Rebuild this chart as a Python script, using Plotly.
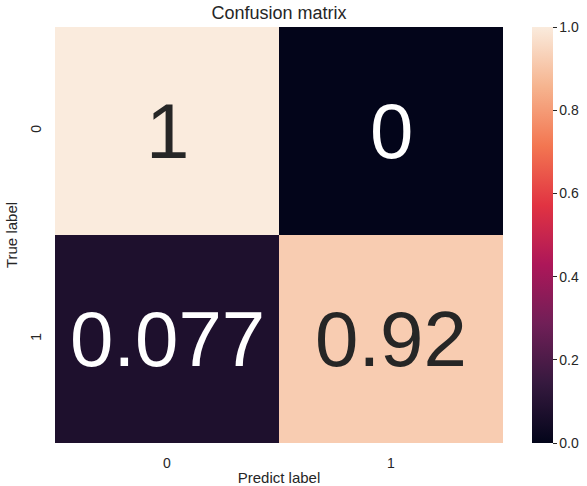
import plotly.graph_objects as go

# Normalised confusion matrix (rows: true label, columns: predicted label)
true_labels = ["0", "1"]
pred_labels = ["0", "1"]
row_0 = [1.0, 0.0]
row_1 = [0.077, 0.92]
matrix = [row_0, row_1]

# Seaborn "rocket" colormap sampled into a Plotly colorscale
rocket = [
    [0.0, "#03051A"],
    [0.143, "#35193E"],
    [0.286, "#701F57"],
    [0.429, "#AD1759"],
    [0.571, "#E13342"],
    [0.714, "#F37651"],
    [0.857, "#F6B48F"],
    [1.0, "#FAEBDD"],
]

FONT = "Liberation Sans, Arial, sans-serif"
INK = "#262626"

fig = go.Figure(
    go.Heatmap(
        z=matrix,
        x=pred_labels,
        y=true_labels,
        zmin=0,
        zmax=1,
        colorscale=rocket,
        xgap=0,
        ygap=0,
        hoverinfo="skip",
        colorbar=dict(
            x=1.064,
            xanchor="left",
            xref="paper",
            y=0.5,
            yanchor="middle",
            len=1,
            lenmode="fraction",
            thickness=21,
            xpad=0,
            ypad=0,
            outlinewidth=0,
            ticks="outside",
            ticklen=4,
            tickwidth=1,
            tickcolor=INK,
            tickvals=[0.0, 0.2, 0.4, 0.6, 0.8, 1.0],
            tickformat=".1f",
            tickfont=dict(family=FONT, size=14, color=INK),
        ),
    )
)

# Cell annotations: dark text on light cells, white on dark cells
for i, row in enumerate(matrix):
    for j, v in enumerate(row):
        fig.add_annotation(
            x=pred_labels[j],
            y=true_labels[i],
            text=format(v, ".2g"),
            showarrow=False,
            font=dict(family=FONT, size=78, color=INK if v > 0.5 else "white"),
        )

fig.update_layout(
    width=587,
    height=486,
    margin=dict(l=55, r=84, t=27, b=43, autoexpand=False),
    paper_bgcolor="white",
    plot_bgcolor="white",
    title=dict(
        text="Confusion matrix",
        x=0.5,
        xref="paper",
        xanchor="center",
        y=1 - 13 / 486,
        yref="container",
        yanchor="middle",
        font=dict(family=FONT, size=18, color=INK),
    ),
    xaxis=dict(
        showgrid=False,
        zeroline=False,
        ticks="",
        ticklabelstandoff=10,
        tickfont=dict(family=FONT, size=14, color=INK),
        title=dict(text="Predict label", standoff=4,
                   font=dict(family=FONT, size=15, color=INK)),
    ),
    yaxis=dict(
        showgrid=False,
        zeroline=False,
        autorange="reversed",
        ticks="",
        tickangle=-90,
        ticklabelstandoff=10,
        tickfont=dict(family=FONT, size=14, color=INK),
        title=dict(text="True label", standoff=6,
                   font=dict(family=FONT, size=15, color=INK)),
    ),
)

fig.write_html("out.html")
